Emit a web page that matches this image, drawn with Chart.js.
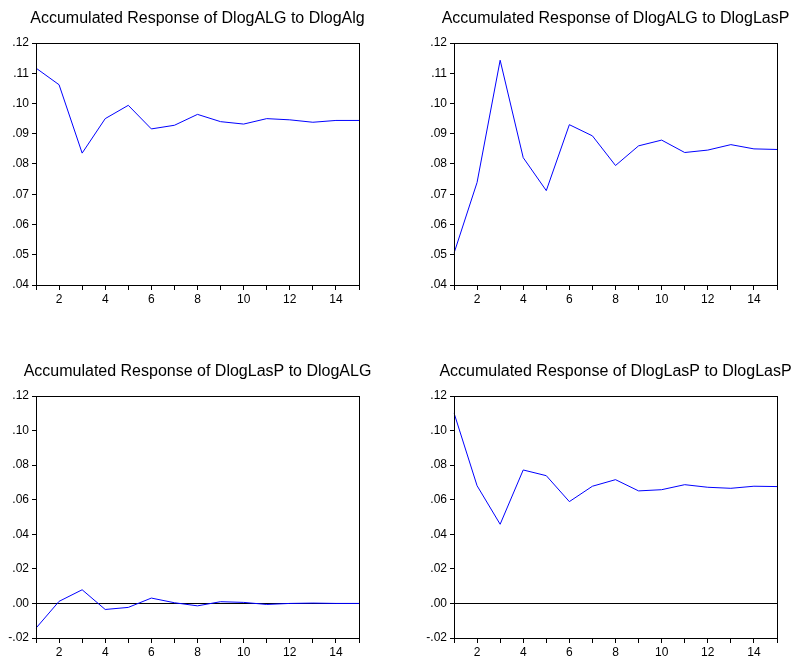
<!DOCTYPE html>
<html>
<head>
<meta charset="utf-8">
<script src="https://cdn.jsdelivr.net/npm/chart.js@4/dist/chart.umd.min.js"></script>
<style>
  html, body { margin: 0; padding: 0; background: #fff; overflow: hidden; width: 793px; height: 659px; }
  .panel { position: absolute; }
</style>
</head>
<body>
<div class="panel" id="p1" style="left:0px;top:0px;width:395px;height:315px;"><canvas id="c1"></canvas></div>
<div class="panel" id="p2" style="left:400px;top:0px;width:431px;height:315px;"><canvas id="c2"></canvas></div>
<div class="panel" id="p3" style="left:0px;top:353px;width:395px;height:315px;"><canvas id="c3"></canvas></div>
<div class="panel" id="p4" style="left:400px;top:353px;width:431px;height:315px;"><canvas id="c4"></canvas></div>
<script>
// ---- Data ----
const periods = [1, 2, 3, 4, 5, 6, 7, 8, 9, 10, 11, 12, 13, 14, 15];
const xTickLabels = [2, 4, 6, 8, 10, 12, 14];

const respALGtoALG   = [0.1117, 0.1062, 0.0836, 0.0950, 0.0994, 0.0916, 0.0928, 0.0964, 0.0940, 0.0932, 0.0950, 0.0946, 0.0938, 0.0944, 0.0944];
const respALGtoLasP  = [0.0505, 0.0739, 0.1143, 0.0821, 0.0712, 0.0930, 0.0893, 0.0795, 0.0860, 0.0879, 0.0838, 0.0846, 0.0864, 0.0850, 0.0848];
const respLasPtoALG  = [-0.0143, 0.0012, 0.0079, -0.0035, -0.0023, 0.0031, 0.0004, -0.0014, 0.0010, 0.0006, -0.0006, 0.0000, 0.0002, 0.0000, 0.0000];
const respLasPtoLasP = [0.1102, 0.0681, 0.0458, 0.0772, 0.0739, 0.0589, 0.0678, 0.0716, 0.0651, 0.0658, 0.0687, 0.0672, 0.0666, 0.0678, 0.0676];

const yTicksTop    = [0.04, 0.05, 0.06, 0.07, 0.08, 0.09, 0.10, 0.11, 0.12];
const yTicksBottom = [-0.02, 0.00, 0.02, 0.04, 0.06, 0.08, 0.10, 0.12];

const titles = [
  'Accumulated Response of DlogALG to DlogAlg',
  'Accumulated Response of DlogALG to DlogLasP',
  'Accumulated Response of DlogLasP to DlogALG',
  'Accumulated Response of DlogLasP to DlogLasP'
];

// ---- Rendering ----
const FONT = "'Liberation Sans', Arial, Helvetica, sans-serif";

const boxPlugin = {
  id: 'plotBox',
  afterDraw(chart) {
    const a = chart.chartArea;
    const ctx = chart.ctx;
    ctx.save();
    ctx.strokeStyle = '#000';
    ctx.lineWidth = 1;
    const l = Math.round(a.left) + 0.5, r = Math.round(a.right) + 0.5;
    const t = Math.round(a.top) + 0.5, b = Math.round(a.bottom) + 0.5;
    ctx.strokeRect(l, t, r - l, b - t);
    ctx.restore();
  }
};

function fmt(v) {
  const r = Math.round(v * 100) / 100;
  let s = Math.abs(r).toFixed(2).replace(/^0/, '');
  return (r < 0 ? '-' : '') + s;
}

function makeChart(id, title, values, yTicks, yAxisWidth, rightPad) {
  const yMin = yTicks[0], yMax = yTicks[yTicks.length - 1];
  return new Chart(document.getElementById(id), {
    type: 'line',
    data: {
      labels: periods,
      datasets: [{
        data: values,
        borderColor: '#0000ff',
        borderWidth: 1,
        pointRadius: 0,
        tension: 0,
        fill: false
      }]
    },
    options: {
      responsive: true,
      maintainAspectRatio: false,
      animation: false,
      events: [],
      layout: { padding: 0 },
      plugins: {
        legend: { display: false },
        tooltip: { enabled: false },
        title: {
          display: true,
          text: title,
          color: '#000',
          font: { family: FONT, size: 16, weight: 'normal', lineHeight: 1.2 },
          padding: { top: 9, bottom: 14.8 }
        }
      },
      scales: {
        x: {
          type: 'category',
          offset: false,
          grid: { display: true, drawOnChartArea: false, drawTicks: true, tickLength: 5, tickColor: '#000' },
          border: { display: true, color: '#000', width: 1 },
          ticks: {
            autoSkip: false,
            maxRotation: 0,
            padding: 2,
            color: '#000',
            font: { family: FONT, size: 12 },
            callback: function(val, idx) {
              const p = periods[idx];
              return xTickLabels.includes(p) ? String(p) : '';
            }
          },
          afterFit(scale) { scale.height = 30; }
        },
        y: {
          type: 'linear',
          min: yMin,
          max: yMax,
          afterBuildTicks(scale) { scale.ticks = yTicks.map(v => ({ value: v })); },
          grid: {
            display: true,
            drawOnChartArea: true,
            drawTicks: true,
            tickLength: 4,
            tickColor: '#000',
            color: (c) => (c.tick && Math.abs(c.tick.value) < 1e-9) ? '#000' : 'rgba(0,0,0,0)'
          },
          border: { display: true, color: '#000', width: 1 },
          ticks: {
            padding: 3,
            color: '#000',
            font: { family: FONT, size: 12 },
            callback: (v) => fmt(v)
          },
          afterFit(scale) { scale.width = yAxisWidth; }
        },
        yRight: {
          type: 'linear',
          position: 'right',
          min: yMin,
          max: yMax,
          display: true,
          grid: { display: false, drawTicks: false },
          border: { display: false },
          ticks: { display: false },
          afterFit(scale) { scale.width = rightPad; }
        }
      }
    },
    plugins: [boxPlugin]
  });
}

makeChart('c1', titles[0], respALGtoALG, yTicksTop, 36, 36);
makeChart('c2', titles[1], respALGtoLasP, yTicksTop, 54, 54);
makeChart('c3', titles[2], respLasPtoALG, yTicksBottom, 36, 36);
makeChart('c4', titles[3], respLasPtoLasP, yTicksBottom, 54, 54);
</script>
</body>
</html>
